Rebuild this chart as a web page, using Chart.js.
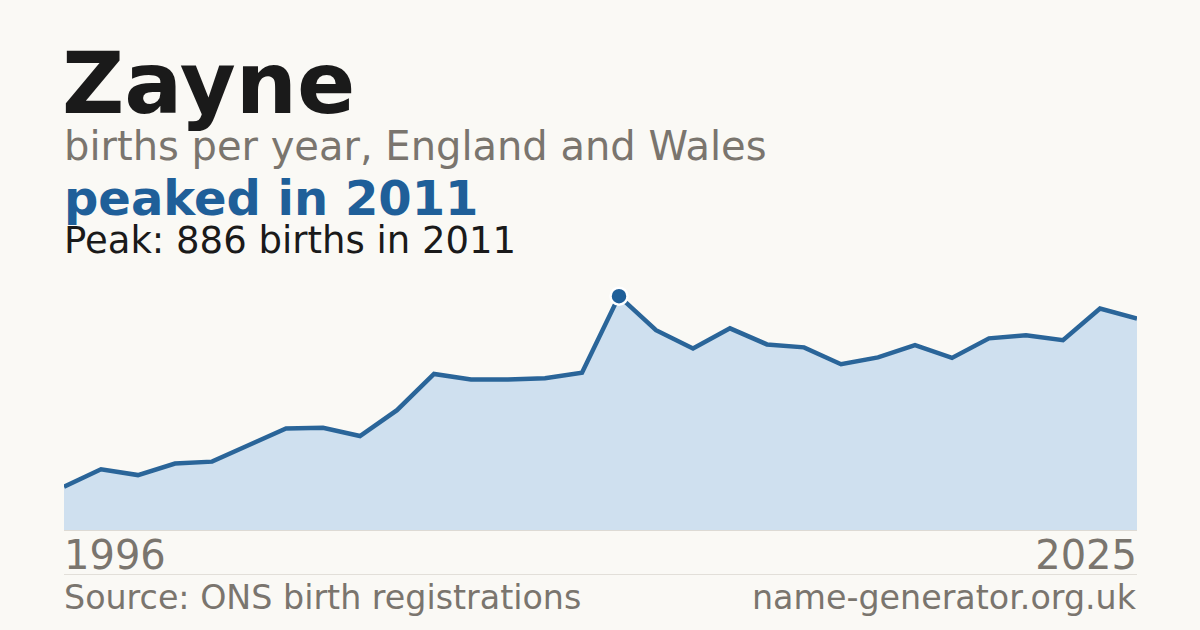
<!DOCTYPE html>
<html>
<head>
<meta charset="utf-8">
<script src="https://cdn.jsdelivr.net/npm/chart.js@4/dist/chart.umd.min.js"></script>
<style>
    body { margin: 0; background: #faf9f5; font-family: "DejaVu Sans", sans-serif; }
    #page { position: relative; width: 1200px; height: 630px; overflow: hidden; }
    .t { position: absolute; line-height: 1; white-space: nowrap; }
    #chart-box { position: absolute; left: 64px; top: 270px; width: 1073px; height: 260px; }
    #base { position: absolute; left: 64px; top: 530px; width: 1073px; height: 1px; background: #dddad4; }
    #rule { position: absolute; left: 64px; top: 574px; width: 1073px; height: 1px; background: #e2dfd9; }
</style>
</head>
<body>
<div id="page">
    <div class="t" style="left:62px; top:40px; font-size:86px; font-weight:bold; color:#1a1a1a;">Zayne</div>
    <div class="t" style="left:64px; top:126px; font-size:40px; color:#7a756e;">births per year, England and Wales</div>
    <div class="t" style="left:64px; top:174px; font-size:48px; font-weight:bold; color:#1f5f99;">peaked in 2011</div>
    <div class="t" style="left:64px; top:222px; font-size:37px; color:#1a1a1a;">Peak: 886 births in 2011</div>

    <div id="chart-box"><canvas id="name-chart"></canvas></div>
    <div id="base"></div>

    <div class="t" id="first-year" style="left:64px; top:535px; font-size:40px; color:#7a756e;"></div>
    <div class="t" id="last-year" style="right:63px; top:535px; font-size:40px; color:#7a756e;"></div>
    <div id="rule"></div>
    <div class="t" style="left:64px; top:581px; font-size:33.3px; color:#7a756e;">Source: ONS birth registrations</div>
    <div class="t" style="right:64px; top:581px; font-size:33.3px; color:#7a756e;">name-generator.org.uk</div>
</div>

<script>
// Data
const years = [1996, 1997, 1998, 1999, 2000, 2001, 2002, 2003, 2004, 2005,
               2006, 2007, 2008, 2009, 2010, 2011, 2012, 2013, 2014, 2015,
               2016, 2017, 2018, 2019, 2020, 2021, 2022, 2023, 2024, 2025];
const births = [164, 230, 208, 252, 259, 322, 385, 387, 356, 454,
                591, 570, 570, 575, 596, 886, 757, 688, 764, 703,
                692, 628, 654, 700, 652, 726, 738, 719, 839, 801];
const peakYear = 2011;

const peakIndex = years.indexOf(peakYear);

document.getElementById('first-year').textContent = years[0];
document.getElementById('last-year').textContent = years[years.length - 1];

// Only the peak gets a marker
const radii = births.map((v, i) => i === peakIndex ? 8.5 : 0);

new Chart(document.getElementById('name-chart'), {
    type: 'line',
    data: {
        labels: years,
        datasets: [{
            data: births,
            borderColor: '#2a6599',
            borderWidth: 4.5,
            backgroundColor: '#cfe0ef',
            fill: 'origin',
            tension: 0,
            pointRadius: radii,
            pointBackgroundColor: '#1f5f99',
            pointBorderColor: '#ffffff',
            pointBorderWidth: 2.5,
            pointHoverRadius: radii,
            clip: false,
        }],
    },
    options: {
        responsive: true,
        maintainAspectRatio: false,
        animation: false,
        layout: { padding: 0 },
        plugins: {
            legend: { display: false },
            tooltip: { enabled: false },
        },
        scales: {
            x: { display: false, offset: false },
            y: { display: false, min: 0, max: 985 },
        },
    },
});
</script>
</body>
</html>
